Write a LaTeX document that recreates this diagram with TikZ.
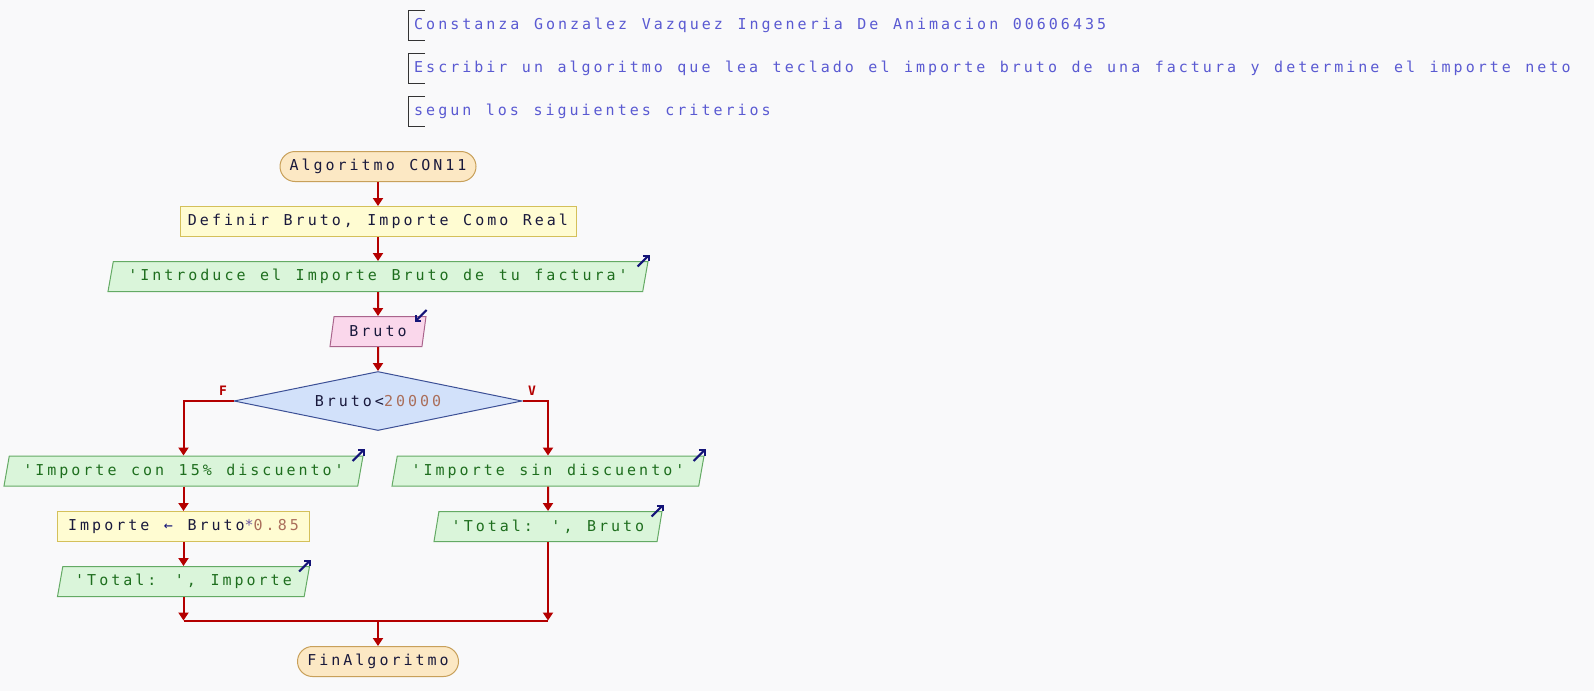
\documentclass[tikz,border=0pt]{standalone}
\usepackage{fontspec}
\usetikzlibrary{shapes.geometric,arrows.meta,calc}
\newfontfamily\pf[LetterSpace=20,WordSpace=1.21]{DejaVu Sans Mono}
\definecolor{bgc}{RGB}{249,249,250}
\definecolor{termf}{RGB}{252,232,196}
\definecolor{termd}{RGB}{200,160,90}
\definecolor{procf}{RGB}{255,252,210}
\definecolor{procd}{RGB}{212,192,90}
\definecolor{outf}{RGB}{218,245,218}
\definecolor{outd}{RGB}{100,170,100}
\definecolor{inf}{RGB}{250,215,235}
\definecolor{ind}{RGB}{170,100,140}
\definecolor{decf}{RGB}{210,225,250}
\definecolor{decd}{RGB}{60,80,150}
\definecolor{arrc}{RGB}{180,0,0}
\definecolor{navy}{RGB}{20,20,120}
\definecolor{txt}{RGB}{25,25,60}
\definecolor{grn}{RGB}{30,110,30}
\definecolor{num}{RGB}{170,110,90}
\definecolor{cmt}{RGB}{90,90,210}
\definecolor{star}{RGB}{110,90,160}
\begin{document}
\begin{tikzpicture}[x=1pt,y=-1pt,
  every node/.style={font=\pf\fontsize{15}{18}\selectfont, inner sep=0pt},
  base/.style={draw, line width=1pt, minimum height=30pt},
  term/.style={base, rectangle, rounded corners=15pt, fill=termf, draw=termd, text=txt},
  proc/.style={base, rectangle, fill=procf, draw=procd, text=txt},
  para/.style={base, trapezium, trapezium left angle=70, trapezium right angle=110, trapezium stretches body},
  outp/.style={para, fill=outf, draw=outd, text=grn},
  inp/.style={para, fill=inf, draw=ind, text=txt},
  dec/.style={diamond, aspect=4.88, draw=decd, fill=decf, line width=1pt, minimum width=288pt, minimum height=59pt, text=txt},
  arr/.style={draw=arrc, line width=2pt, -{Triangle[length=8pt,width=10pt]}},
  ln/.style={draw=arrc, line width=2pt},
  ico/.style={draw=navy, line width=2pt, -{Straight Barb[length=4pt,width=8pt]}},
  brk/.style={draw=black!80, line width=1pt},
  cmtxt/.style={anchor=west, text=cmt},
  lbl/.style={text=arrc, font=\pf\bfseries\fontsize{13}{15}\selectfont},
]
\fill[bgc] (0,0) rectangle (1594,691);
\useasboundingbox (0,0) rectangle (1594,691);

% comments
\draw[brk] (425,10) -- (408,10) -- (408,40) -- (425,40);
\draw[brk] (425,53) -- (408,53) -- (408,83) -- (425,83);
\draw[brk] (425,96) -- (408,96) -- (408,126) -- (425,126);
\node[cmtxt] (c1) at (414,25) {Constanza Gonzalez Vazquez Ingeneria De Animacion 00606435};
\node[cmtxt] (c2) at (414,68) {Escribir un algoritmo que lea teclado el importe bruto de una factura y determine el importe neto};
\node[cmtxt] (c3) at (414,111) {segun los siguientes criterios};

% nodes
\node[term, minimum width=196pt] (start) at (378,166.5) {Algoritmo CON11};
\node[proc, minimum width=396pt] (def) at (378,221.5) {Definir Bruto, Importe Como Real};
\node[outp, minimum width=540pt] (intro) at (378,276.5) {'Introduce el Importe Bruto de tu factura'};
\node[inp, minimum width=96pt] (read) at (378,331.5) {Bruto};
\node[dec] (cond) at (378,401) {Bruto<\textcolor{num}{20000}};
\node[outp, minimum width=359pt] (lo) at (183.5,471) {'Importe con 15\% discuento'};
\node[proc, minimum width=252pt] (calc) at (183.5,526.5) {Importe {\color{navy}←} Bruto{\color{star}*}\textcolor{num}{0.85}};
\node[outp, minimum width=252pt] (lt) at (183.5,581.5) {'Total: ', Importe};
\node[outp, minimum width=312pt] (ro) at (548,471) {'Importe sin discuento'};
\node[outp, minimum width=228pt] (rt) at (548,526.5) {'Total: ', Bruto};
\node[term, minimum width=161pt] (fin) at (378,661.5) {FinAlgoritmo};
\coordinate (mL) at (183.5,620.5);
\coordinate (mR) at (548,620.5);
\coordinate (mC) at (378,620.5);

\node[lbl] (fl) at (223,391) {F};
\node[lbl] (vl) at (532,391) {V};

% connectors
\draw[arr] (start) -- (def);
\draw[arr] (def) -- (intro);
\draw[arr] (intro) -- (read);
\draw[arr] (read) -- (cond);
\draw[arr] (cond.west) -| (lo);
\draw[arr] (cond.east) -| (ro);
\draw[arr] (lo) -- (calc);
\draw[arr] (calc) -- (lt);
\draw[arr] (ro) -- (rt);
\draw[arr] (lt) -- (mL);
\draw[arr] (rt) -- (mR);
\draw[ln] (mL) -- (mR);
\draw[arr] (mC) -- (fin);

% io icons
\foreach \n in {intro,lo,lt,ro,rt}{
  \draw[ico] ([shift={(-11,5.5)}]\n.top right corner) -- ([shift={(1,-6.5)}]\n.top right corner);
}
\draw[ico] ([shift={(0,-6)}]read.top right corner) -- ([shift={(-12,6)}]read.top right corner);
\end{tikzpicture}
\end{document}
